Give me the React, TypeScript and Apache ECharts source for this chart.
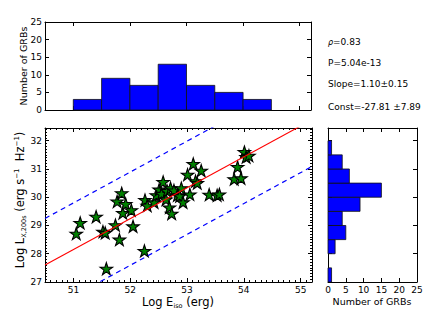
import React, { useEffect, useRef } from 'react';
import * as echarts from 'echarts';

// ---- data ----
const eIso = [
  51.05, 51.12, 51.40,
  51.52, 51.56, 51.58, 51.74, 51.81, 51.77, 51.85, 51.87, 51.92,
  52.02, 52.05, 52.25, 52.26, 52.30, 52.42, 52.46,
  52.51, 52.55, 52.58, 52.63, 52.65, 52.69, 52.73, 52.71, 52.77, 52.83, 52.87, 52.90, 52.93,
  53.01, 53.05, 53.11, 53.15, 53.18, 53.25, 53.39,
  53.53, 53.57, 53.83, 53.89, 53.95,
  54.01, 54.04, 54.09,
];
const logLx = [
  28.69, 29.07, 29.29,
  28.76, 28.72, 27.45, 28.99, 28.48, 29.83, 30.12, 29.42, 29.74,
  29.52, 28.95, 28.08, 29.88, 29.68, 29.80, 30.05,
  30.25, 30.10, 30.52, 29.90, 30.20, 29.62, 29.40, 30.30, 30.22, 30.05, 30.02, 30.30, 29.80,
  30.78, 30.08, 31.16, 30.55, 30.48, 30.92, 30.07,
  30.05, 30.08, 30.62, 31.05, 30.65,
  31.58, 31.40, 31.45,
];

const eIsoBinEdges = [51, 51.5, 52, 52.5, 53, 53.5, 54, 54.5];
const eIsoCounts = [3, 9, 7, 13, 7, 5, 3];
const lxBinEdges = [27, 27.5, 28, 28.5, 29, 29.5, 30, 30.5, 31, 31.5, 32];
const lxCounts = [1, 0, 2, 5, 4, 9, 15, 6, 4, 1];

const fitX = [50.5, 55.2];
const fitY = [27.6, 32.74];
const upperY = [29.25, 34.39];
const lowerY = [25.95, 31.09];

const statLines = ['{i|ρ}=0.83', 'P=5.04e-13', 'Slope=1.10±0.15', 'Const=-27.81 ±7.89'];

const X_MIN = 50.5, X_MAX = 55.2, Y_MIN = 27, Y_MAX = 32.45;

const FONT = 'DejaVu Sans';
const STAR = 'path://M0,-10L2.245,-3.09L9.511,-3.09L3.633,1.18L5.878,8.09L0,3.82L-5.878,8.09L-3.633,1.18L-9.511,-3.09L-2.245,-3.09Z';

const line = { show: true, onZero: false, lineStyle: { color: '#000', width: 1 } };
const tick = { show: true, inside: true, length: 4, lineStyle: { color: '#000', width: 1 } };
const minor = { show: true, splitNumber: 10, length: 2, lineStyle: { color: '#000', width: 1 } };
const label = { show: true, color: '#000', fontFamily: FONT, fontSize: 9, margin: 3 };
const noLabel = { show: false };

function axis(extra: any) {
  return { type: 'value', axisLine: line, axisTick: tick, splitLine: { show: false }, ...extra };
}

export default function App() {
  const ref = useRef<HTMLDivElement>(null);
  useEffect(() => {
    const chart = echarts.init(ref.current!, null, { renderer: 'svg' });
    const scatterData = eIso.map((x, i) => [x, logLx[i]]);
    const topBins = eIsoCounts.map((c, i) => [eIsoBinEdges[i], eIsoBinEdges[i + 1], c]);
    const rightBins = lxCounts.map((c, i) => [c, lxBinEdges[i], lxBinEdges[i + 1]]);

    const option: any = {
      animation: false,
      backgroundColor: '#fff',
      grid: [
        { left: 45, top: 22, width: 266, height: 88 },
        { left: 45, top: 128, width: 267, height: 154 },
        { left: 328, top: 128, width: 89, height: 154 },
      ],
      xAxis: [
        axis({ gridIndex: 0, position: 'bottom', min: X_MIN, max: X_MAX, axisLabel: noLabel }),
        axis({ gridIndex: 0, position: 'top', min: X_MIN, max: X_MAX, axisLabel: noLabel }),
        axis({ gridIndex: 1, position: 'bottom', min: X_MIN, max: X_MAX, minorTick: minor,
          axisLabel: { ...label, interval: 0, showMinLabel: false, showMaxLabel: false } }),
        axis({ gridIndex: 1, position: 'top', min: X_MIN, max: X_MAX, minorTick: minor, axisLabel: noLabel }),
        axis({ gridIndex: 2, position: 'bottom', min: 0, max: 25, interval: 5, axisLabel: { ...label, interval: 0 } }),
        axis({ gridIndex: 2, position: 'top', min: 0, max: 25, interval: 5, axisLabel: noLabel }),
      ],
      yAxis: [
        axis({ gridIndex: 0, position: 'left', min: 0, max: 25, interval: 5, axisLabel: { ...label, interval: 0 } }),
        axis({ gridIndex: 0, position: 'right', min: 0, max: 25, interval: 5, axisLabel: noLabel }),
        axis({ gridIndex: 1, position: 'left', min: Y_MIN, max: Y_MAX, minorTick: minor,
          axisLabel: { ...label, interval: 0, showMaxLabel: false } }),
        axis({ gridIndex: 1, position: 'right', min: Y_MIN, max: Y_MAX, minorTick: minor, axisLabel: noLabel }),
        axis({ gridIndex: 2, position: 'left', min: Y_MIN, max: Y_MAX, axisLabel: noLabel }),
        axis({ gridIndex: 2, position: 'right', min: Y_MIN, max: Y_MAX, axisLabel: noLabel }),
      ],
      series: [
        {
          type: 'custom', xAxisIndex: 0, yAxisIndex: 0, data: topBins,
          renderItem: (p: any, api: any) => {
            if (!api.value(2)) return null;
            const a = api.coord([api.value(0), 0]);
            const b = api.coord([api.value(1), api.value(2)]);
            return { type: 'rect', shape: { x: a[0], y: b[1], width: b[0] - a[0], height: a[1] - b[1] },
              style: { fill: '#0000ff', stroke: '#111', lineWidth: 0.8 } };
          },
        },
        {
          type: 'custom', xAxisIndex: 4, yAxisIndex: 4, data: rightBins,
          renderItem: (p: any, api: any) => {
            if (!api.value(0)) return null;
            const a = api.coord([0, api.value(1)]);
            const b = api.coord([api.value(0), api.value(2)]);
            return { type: 'rect', shape: { x: a[0], y: b[1], width: b[0] - a[0], height: a[1] - b[1] },
              style: { fill: '#0000ff', stroke: '#111', lineWidth: 0.8 } };
          },
        },
        {
          type: 'scatter', xAxisIndex: 2, yAxisIndex: 2, data: scatterData,
          symbol: STAR, symbolSize: [12.5, 12], symbolOffset: [0, -0.6],
          itemStyle: { color: '#008000', borderColor: '#000', borderWidth: 1.1, opacity: 1 },
          z: 2,
        },
        {
          type: 'line', xAxisIndex: 2, yAxisIndex: 2, data: fitX.map((x, i) => [x, fitY[i]]),
          symbol: 'none', clip: true, lineStyle: { color: '#ff0000', width: 1.1 }, z: 3,
        },
        {
          type: 'line', xAxisIndex: 2, yAxisIndex: 2, data: fitX.map((x, i) => [x, upperY[i]]),
          symbol: 'none', clip: true, lineStyle: { color: '#0000ff', width: 1.2, type: [5, 4] }, z: 3,
        },
        {
          type: 'line', xAxisIndex: 2, yAxisIndex: 2, data: fitX.map((x, i) => [x, lowerY[i]]),
          symbol: 'none', clip: true, lineStyle: { color: '#0000ff', width: 1.2, type: [5, 4] }, z: 3,
        },
      ],
      graphic: [
        {
          type: 'text', x: 23, y: 66, rotation: Math.PI / 2,
          style: { text: 'Number of GRBs', fill: '#000', fontFamily: FONT, fontSize: 9.5, align: 'center', verticalAlign: 'middle' },
        },
        {
          type: 'text', x: 372, y: 301,
          style: { text: 'Number of GRBs', fill: '#000', fontFamily: FONT, fontSize: 9.5, align: 'center', verticalAlign: 'middle' },
        },
        {
          type: 'text', x: 178, y: 302,
          style: {
            text: 'Log E{sub|iso} (erg)', fill: '#000', fontFamily: FONT, fontSize: 11.5, lineHeight: 14,
            align: 'center', verticalAlign: 'middle',
            rich: { sub: { fontFamily: FONT, fontSize: 6.5, lineHeight: 7, verticalAlign: 'bottom', fill: '#000' } },
          },
        },
        {
          type: 'text', x: 20, y: 200, rotation: Math.PI / 2,
          style: {
            text: 'Log L{sub|X,200s} (erg s{sup|−1}  Hz{sup|−1})', fill: '#000', fontFamily: FONT, fontSize: 11.5, lineHeight: 14,
            align: 'center', verticalAlign: 'middle',
            rich: {
              sub: { fontFamily: FONT, fontSize: 6.5, lineHeight: 7, verticalAlign: 'bottom', fill: '#000' },
              sup: { fontFamily: FONT, fontSize: 7, lineHeight: 7, verticalAlign: 'top', fill: '#000' },
            },
          },
        },
        ...statLines.map((t, i) => ({
          type: 'text', x: 328, y: [42, 63, 83.5, 107][i],
          style: {
            text: t, fill: '#000', fontFamily: FONT, fontSize: 9, align: 'left', verticalAlign: 'middle',
            rich: { i: { fontFamily: FONT, fontSize: 8, fontStyle: 'italic', fill: '#000', verticalAlign: 'bottom', lineHeight: 9 } },
          },
        })),
      ],
    };
    chart.setOption(option);
    return () => chart.dispose();
  }, []);
  return <div ref={ref} style={{ position: 'fixed', left: 0, top: 0, width: 442, height: 326, background: '#fff' }} />;
}
